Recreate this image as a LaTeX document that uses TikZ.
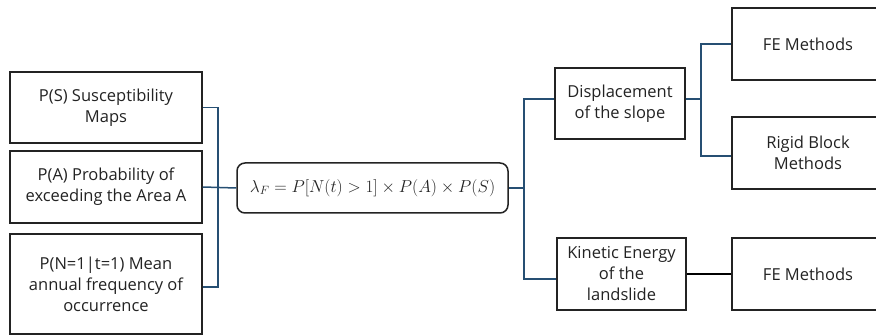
\documentclass[tikz,border=0pt]{standalone}
\usepackage{fontspec}
\setmainfont{Open Sans}
\usepackage{amsmath}
\definecolor{bus}{RGB}{38,79,115}
\definecolor{ink}{RGB}{35,35,35}
\begin{document}
\begin{tikzpicture}[x=1pt,y=-1pt,
  box/.style={draw=ink,line width=1.5pt,align=center,text=ink,inner sep=2pt,
    font=\fontsize{16.5}{21}\selectfont},
  bline/.style={draw=bus,line width=1.5pt},
  kline/.style={draw=black,line width=2pt}]
\clip (0,0) rectangle (876,336);
\fill[white] (0,0) rectangle (876,336);
\node[box,minimum width=192pt,minimum height=71pt] (s) at (106,107.5) {P(S) Susceptibility\\Maps};
\node[box,minimum width=192pt,minimum height=72pt] (a) at (106,187) {P(A) Probability of\\exceeding the Area A};
\node[box,minimum width=192pt,minimum height=100pt] (n) at (106,284) {P(N=1|t=1) Mean\\annual frequency of\\occurrence};
\node[box,rounded corners=8pt,minimum width=271pt,minimum height=50pt,font=\fontsize{17.5}{20}\selectfont] (f) at (372.5,188)
  {$\lambda_F = P[N(t)>1]\times P(A)\times P(S)$};
\node[box,minimum width=130pt,minimum height=71pt] (d) at (620,103.5) {Displacement\\of the slope};
\node[box,minimum width=129pt,minimum height=72pt] (k) at (621.5,274) {Kinetic Energy\\of the\\landslide};
\node[box,minimum width=152pt,minimum height=72pt] (fe1) at (808,44) {FE Methods};
\node[box,minimum width=152pt,minimum height=72pt] (rb) at (808,153) {Rigid Block\\Methods};
\node[box,minimum width=152pt,minimum height=72pt] (fe2) at (808,274) {FE Methods};
\coordinate (bl) at (218,0);
\coordinate (br) at (524,0);
\coordinate (bd) at (701,0);
\coordinate (n3) at (0,287);
\coordinate (d1) at (0,99);
\coordinate (k1) at (0,279);
\coordinate (r1) at (0,156);
\draw[bline] (s.east) -- (bl |- s.east) -- (bl |- n3) -- (n.east |- n3);
\draw[bline] (a.east) -- (f.west);
\draw[bline] (f.east) -- (br |- f.east);
\draw[bline] (d.west |- d1) -- (br |- d1) -- (br |- k1) -- (k.west |- k1);
\draw[bline] (d.east |- d1) -- (bd |- d1);
\draw[bline] (fe1.west) -- (bd |- fe1.west) -- (bd |- r1) -- (rb.west |- r1);
\draw[kline] (k.east) -- (fe2.west);
\end{tikzpicture}
\end{document}
